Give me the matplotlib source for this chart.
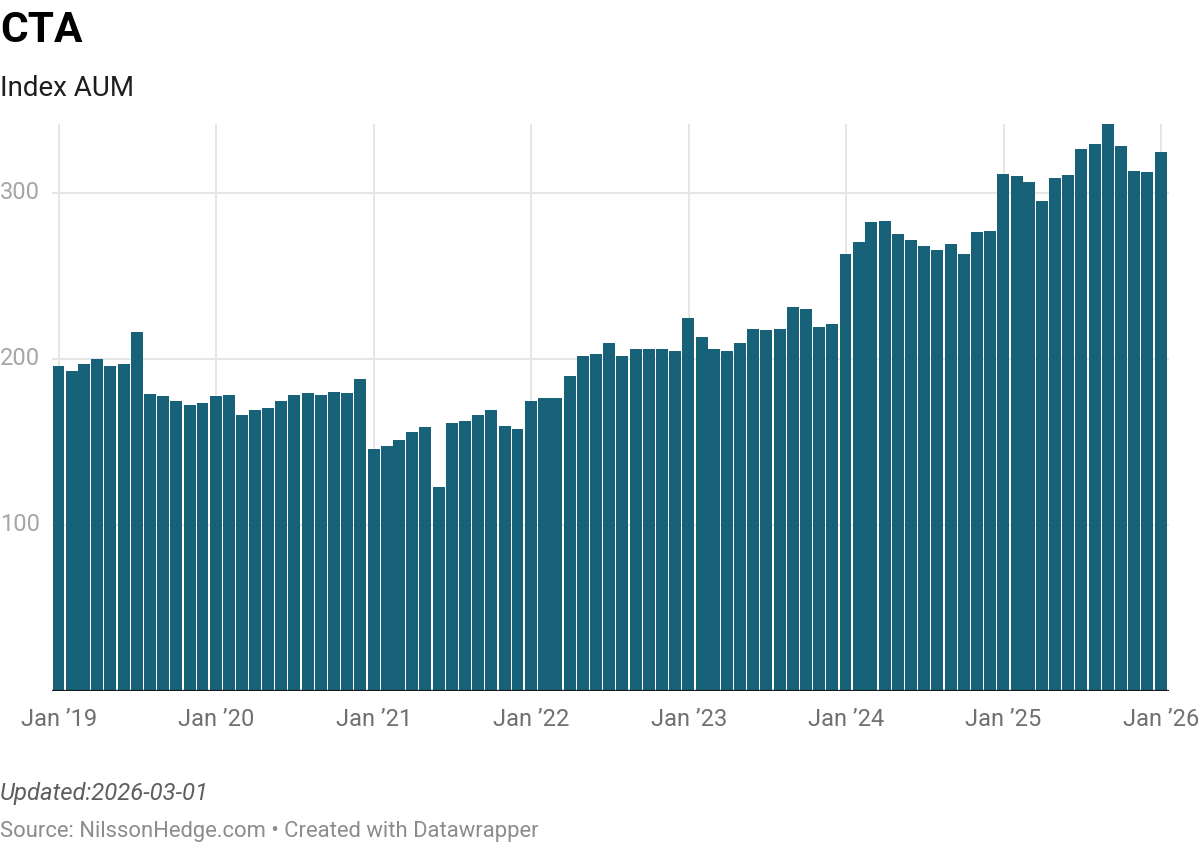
import matplotlib
matplotlib.use("Agg")
import matplotlib.pyplot as plt
import matplotlib.dates as mdates
from matplotlib.transforms import blended_transform_factory
import pandas as pd

plt.rcParams['font.family'] = ['Roboto', 'DejaVu Sans']

# monthly index AUM, Dec 2018 .. Dec 2025 (month-end)
dates = pd.date_range('2018-12-31', periods=85, freq='ME')
aum = [
    196, 193, 197, 200, 196, 197, 216, 179, 177.5, 174.5, 172, 173.5,
    177.5, 178.5, 166.5, 169.5, 170.5, 174.5, 178, 179.5, 178.5, 180, 179.5, 188,
    145.5, 147.5, 151, 156, 159, 123, 161.5, 162.5, 166.5, 169.5, 159.5, 157.5,
    174.5, 176.5, 176.5, 190, 202, 203, 209.5, 201.5, 206, 206, 206, 205,
    224.5, 213, 206, 204.5, 209.5, 218, 217.5, 218, 231, 230, 219.5, 221,
    263, 270.5, 282.5, 283, 275.5, 271.5, 268, 265.5, 269.5, 263, 276.5, 277,
    311.5, 310, 306.5, 295, 309, 310.5, 326.5, 329.5, 341.5, 328, 313, 312.5,
    324.5,
]
yticks = [100, 200, 300]
xticks = pd.date_range('2019-01-01', '2026-01-01', freq='YS')
xlabels = ['Jan \u2019%02d' % (d.year % 100) for d in xticks]

W, H = 1200, 842
fig = plt.figure(figsize=(12, 8.42), dpi=100)

def fx(px):
    return px / W

def fy(py):
    return 1 - py / H

# axes box in pixels: x 52..1169, y 124..691
ax = fig.add_axes([fx(52), fy(691), fx(1169) - fx(52), fy(124) - fy(691)])

bar_col = '#176179'
ax.bar(dates, aum, width=27.6, color=bar_col, zorder=2)

x0 = mdates.date2num(pd.Timestamp('2019-01-01')) - 16.2
x1 = mdates.date2num(pd.Timestamp('2026-01-01')) + 18.6
ax.set_xlim(x0, x1)
ax.set_ylim(0, max(aum))

grid_col = '#e6e6e6'
lab_tr = blended_transform_factory(fig.transFigure, ax.transData)
for t in yticks:
    ax.axhline(t, color=grid_col, lw=1.4, zorder=1)
    ax.text(fx(0), t, str(t), transform=lab_tr,
            ha='left', va='center', fontsize=17, color='#a6a6a6')
for d in xticks:
    ax.axvline(mdates.date2num(d), color=grid_col, lw=1.4, zorder=1)

ax.axhline(0, color='#1a1a1a', lw=1.6, zorder=3)

ax.set_xticks([mdates.date2num(d) for d in xticks])
ax.set_xticklabels(xlabels, fontsize=17, color='#707070')
ax.tick_params(axis='x', length=0, pad=12)
ax.set_yticks([])
for s in ax.spines.values():
    s.set_visible(False)

fig.text(fx(0), fy(42), 'CTA', fontsize=30.5, fontweight='bold', color='#000000', va='baseline')
fig.text(fx(0), fy(96), 'Index AUM', fontsize=20, color='#1e1e1e', va='baseline')
fig.text(fx(0), fy(800), 'Updated:2026-03-01', fontsize=17.2, style='italic', color='#5e5e5e', va='baseline')
fig.text(fx(0), fy(837), 'Source: NilssonHedge.com \u2022 Created with Datawrapper', fontsize=15.8,
         color='#8c8c8c', va='baseline')

fig.savefig('out.png', dpi=100)
